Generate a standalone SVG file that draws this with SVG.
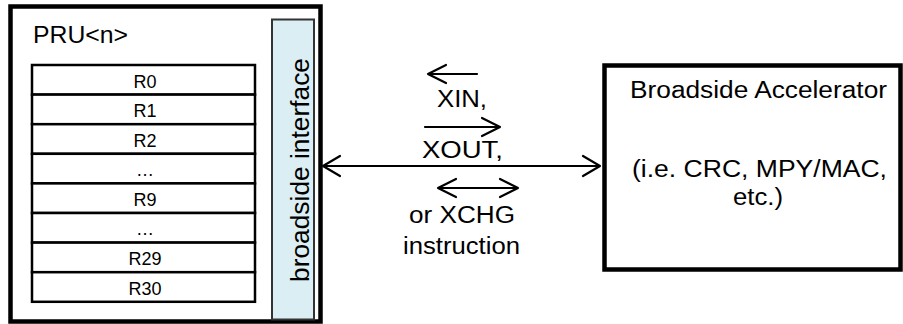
<svg xmlns="http://www.w3.org/2000/svg" width="903" height="324" viewBox="0 0 903 324">
<style>
text{font-family:"Liberation Sans",Arial,sans-serif;fill:#000}
.big{font-size:23px}
.reg{font-size:18px;text-anchor:middle}
.box{fill:#fff;stroke:#000;stroke-width:4.5}
.row{fill:#fff;stroke:#000;stroke-width:2.5}
.arr{fill:none;stroke:#000;stroke-width:2.2;stroke-linecap:round;stroke-linejoin:round}
</style>
<rect width="903" height="324" fill="#fff"/>
<g id="pru">
<rect class="box" x="10.5" y="6.5" width="310" height="315"/>
<text class="big" x="33" y="43" textLength="95" lengthAdjust="spacingAndGlyphs">PRU&lt;n&gt;</text>
</g>
<g id="registers">
<rect class="row" x="32" y="65" width="223" height="29.6"/>
<rect class="row" x="32" y="94.6" width="223" height="29.6"/>
<rect class="row" x="32" y="124.2" width="223" height="29.6"/>
<rect class="row" x="32" y="153.8" width="223" height="29.6"/>
<rect class="row" x="32" y="183.4" width="223" height="29.6"/>
<rect class="row" x="32" y="213" width="223" height="29.6"/>
<rect class="row" x="32" y="242.6" width="223" height="29.6"/>
<rect class="row" x="32" y="272.2" width="223" height="29.6"/>
<text class="reg" x="145" y="87.5">R0</text>
<text class="reg" x="145" y="117">R1</text>
<text class="reg" x="145" y="146.5">R2</text>
<text class="reg" x="145" y="176">…</text>
<text class="reg" x="145" y="205.5">R9</text>
<text class="reg" x="145" y="235">…</text>
<text class="reg" x="145" y="265">R29</text>
<text class="reg" x="145" y="294.5">R30</text>
</g>
<g id="broadside-interface">
<rect x="272" y="19.5" width="42" height="300" fill="#DAEEF3" stroke="#333" stroke-width="2"/>
<text font-size="24" text-anchor="middle" transform="translate(309,170) scale(1.1,1) rotate(-90)" textLength="224" lengthAdjust="spacingAndGlyphs">broadside interface</text>
</g>
<g id="accelerator">
<rect class="box" x="604.5" y="65.5" width="296" height="204"/>
<text class="big" x="630" y="98" textLength="257" lengthAdjust="spacingAndGlyphs">Broadside Accelerator</text>
<text class="big" x="632" y="177" textLength="255" lengthAdjust="spacingAndGlyphs">(i.e. CRC, MPY/MAC,</text>
<text class="big" x="733" y="205" textLength="50" lengthAdjust="spacingAndGlyphs">etc.)</text>
</g>
<g id="connectors">
<path class="arr" d="M323 166 H600 M340 156 L323 166 L340 176 M583 156 L600 166 L583 176"/>
<path class="arr" d="M428 74 H477 M446 65 L428 74 L446 83"/>
<path class="arr" d="M425 127 H500 M482 118 L500 127 L482 136"/>
<path class="arr" d="M438 188 H518 M456 179 L438 188 L456 197 M500 179 L518 188 L500 197"/>
</g>
<g id="labels">
<text class="big" x="437" y="107" textLength="50" lengthAdjust="spacingAndGlyphs">XIN,</text>
<text class="big" x="422" y="158" textLength="81" lengthAdjust="spacingAndGlyphs">XOUT,</text>
<text class="big" x="409" y="223" textLength="106" lengthAdjust="spacingAndGlyphs">or XCHG</text>
<text class="big" x="403" y="254" textLength="117" lengthAdjust="spacingAndGlyphs">instruction</text>
</g>
</svg>
